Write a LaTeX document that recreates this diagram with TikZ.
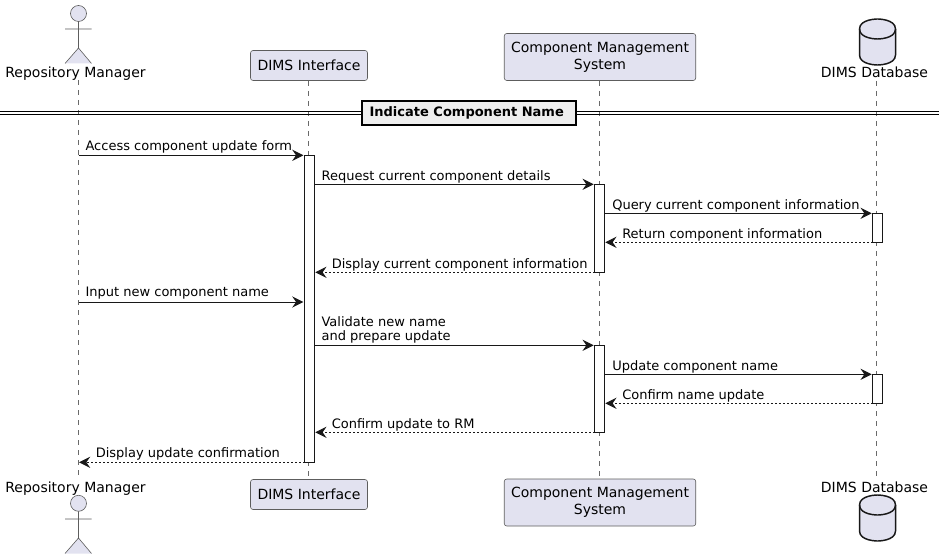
\documentclass[tikz,border=0pt]{standalone}
\usepackage{fontspec}
\setmainfont{DejaVu Sans}
\usetikzlibrary{arrows.meta,positioning}
\definecolor{partfill}{HTML}{E2E2F0}
\definecolor{ink}{HTML}{181818}
\definecolor{sepfill}{HTML}{EEEEEE}
\tikzset{
  x=0.75pt,y=-0.75pt,
  partlabel/.style={inner sep=0pt,font=\fontsize{10.5pt}{12.5pt}\selectfont,text=black,align=center},
  outerlabel/.style={partlabel,anchor=base},
  partbox/.style={partlabel,draw=ink!70,line width=0.45pt,fill=partfill,rounded corners=1.9pt},
  actorshape/.style={draw=ink!70,line width=0.45pt,fill=partfill},
  dbshape/.style={draw=ink,line width=1.1pt,fill=partfill},
  life/.style={draw=ink!65,line width=0.4pt,dash pattern=on 3.75pt off 3.75pt},
  bar/.style={draw=ink,line width=0.75pt,fill=white,inner sep=0pt,minimum width=7.5pt},
  msgtip/.style={-{Stealth[length=8.4pt,width=8.4pt,inset=2.9pt]}},
  call/.style={draw=ink,line width=0.75pt,msgtip},
  reply/.style={draw=ink,line width=0.75pt,msgtip,dash pattern=on 1.5pt off 1.5pt},
  msglabel/.style={inner sep=0pt,anchor=base west,font=\fontsize{9.75pt}{11pt}\selectfont,text=black},
  sepline/.style={draw=black,line width=1pt},
  sepbox/.style={draw=black,line width=1.5pt,fill=sepfill,inner sep=0pt,font=\fontsize{9.75pt}{11pt}\bfseries\selectfont,text=black}
}
\begin{document}
\begin{tikzpicture}
\useasboundingbox (0,0) rectangle (944,559);
% lifeline ends
\coordinate (rmTop) at (78.5,80);
\coordinate (rmEnd) at (78.5,478);
\coordinate (diTop) at (308.5,81);
\coordinate (diEnd) at (308.5,478);
\coordinate (cmTop) at (599.3,81);
\coordinate (cmEnd) at (599.3,477);
\coordinate (dbTop) at (876.3,81);
\coordinate (dbEnd) at (876.3,477);
\draw[life] (rmTop) -- (rmEnd);
\draw[life] (diTop) -- (diEnd);
\draw[life] (cmTop) -- (cmEnd);
\draw[life] (dbTop) -- (dbEnd);
% actors
\draw[actorshape] (78.5,13.5) circle (8);
\draw[actorshape] (78.5,21.5) -- (78.5,48) (65,29) -- (91.5,29) (65,63.5) -- (78.5,48) -- (91.5,63.5);
\node[outerlabel] (rmTopLabel) at (75.5,78) {Repository Manager};
\draw[actorshape] (78.5,503.3) circle (8);
\draw[actorshape] (78.5,511.3) -- (78.5,538) (65,519) -- (91.5,519) (65,553.5) -- (78.5,538) -- (91.5,553.5);
\node[outerlabel] (rmBotLabel) at (75.5,492) {Repository Manager};
% participant boxes
\node[partbox,minimum width=117*0.75pt,minimum height=30*0.75pt] (diTopBox) at (309,65.5) {DIMS Interface};
\node[partbox,minimum width=117*0.75pt,minimum height=30*0.75pt] (diBotBox) at (309,494.5) {DIMS Interface};
\node[partbox,minimum width=191.5*0.75pt,minimum height=47*0.75pt] (cmTopBox) at (600,57) {\raisebox{-1pt}{Component Management}\\\raisebox{-1pt}{System}};
\node[partbox,minimum width=191.5*0.75pt,minimum height=47*0.75pt] (cmBotBox) at (600,502.5) {\raisebox{-1pt}{Component Management}\\\raisebox{-1pt}{System}};
% database
\draw[dbshape] (859.5,29) .. controls (859.5,19) and (877.5,19) .. (877.5,19) .. controls (877.5,19) and (895.5,19) .. (895.5,29) -- (895.5,55) .. controls (895.5,65) and (877.5,65) .. (877.5,65) .. controls (877.5,65) and (859.5,65) .. (859.5,55) -- cycle;
\draw[dbshape,fill=none] (859.5,29) .. controls (859.5,39) and (877.5,39) .. (877.5,39) .. controls (877.5,39) and (895.5,39) .. (895.5,29);
\node[outerlabel] (dbTopLabel) at (874.5,78) {DIMS Database};
\node[outerlabel] (dbBotLabel) at (874.5,492) {DIMS Database};
\draw[dbshape] (859.5,505) .. controls (859.5,495) and (877.5,495) .. (877.5,495) .. controls (877.5,495) and (895.5,495) .. (895.5,505) -- (895.5,531) .. controls (895.5,541) and (877.5,541) .. (877.5,541) .. controls (877.5,541) and (859.5,541) .. (859.5,531) -- cycle;
\draw[dbshape,fill=none] (859.5,505) .. controls (859.5,515) and (877.5,515) .. (877.5,515) .. controls (877.5,515) and (895.5,515) .. (895.5,505);
% separator
\coordinate (sepL1) at (0,111.7);
\coordinate (sepR1) at (939,111.7);
\coordinate (sepL2) at (0,114.4);
\coordinate (sepR2) at (939,114.4);
\draw[sepline] (sepL1) -- (sepR1);
\draw[sepline] (sepL2) -- (sepR2);
\node[sepbox,minimum width=214*0.75pt,minimum height=24*0.75pt] (sepTitle) at (468.7,113) {Indicate Component Name\kern3pt};
% activation bars
\node[bar,minimum height=307*0.75pt] (diBar) at (309.5,308.8) {};
\node[bar,minimum height=88*0.75pt] (cmBarA) at (599.5,228.3) {};
\node[bar,minimum height=87*0.75pt] (cmBarB) at (599.5,388.8) {};
\node[bar,minimum height=29*0.75pt] (dbBarA) at (877.5,227.8) {};
\node[bar,minimum height=29*0.75pt] (dbBarB) at (877.5,388.8) {};
% message ends
\coordinate (m1s) at (78.5,155.3);
\coordinate (m1e) at (303.4,155.3);
\coordinate (m2s) at (314.5,184.3);
\coordinate (m2e) at (593.7,184.3);
\coordinate (m3s) at (604.5,213.3);
\coordinate (m3e) at (871.7,213.3);
\coordinate (m4s) at (872.5,242.3);
\coordinate (m4e) at (605.3,242.3);
\coordinate (m5s) at (594.5,272.3);
\coordinate (m5e) at (315.3,272.3);
\coordinate (m6s) at (78.5,302);
\coordinate (m6e) at (303.4,302);
\coordinate (m7s) at (314.5,345.3);
\coordinate (m7e) at (593.7,345.3);
\coordinate (m8s) at (604.5,374.3);
\coordinate (m8e) at (871.7,374.3);
\coordinate (m9s) at (872.5,403.3);
\coordinate (m9e) at (605.3,403.3);
\coordinate (m10s) at (594.5,432.3);
\coordinate (m10e) at (315.3,432.3);
\coordinate (m11s) at (304.5,462.3);
\coordinate (m11e) at (79,462.3);
\draw[call] (m1s) -- (m1e);
\draw[call] (m2s) -- (m2e);
\draw[call] (m3s) -- (m3e);
\draw[reply] (m4s) -- (m4e);
\draw[reply] (m5s) -- (m5e);
\draw[call] (m6s) -- (m6e);
\draw[call] (m7s) -- (m7e);
\draw[call] (m8s) -- (m8e);
\draw[reply] (m9s) -- (m9e);
\draw[reply] (m10s) -- (m10e);
\draw[reply] (m11s) -- (m11e);
% message labels
\node[msglabel] (t1) at (85.3,150.7) {Access component update form};
\node[msglabel] (t2) at (321.3,180.2) {Request current component details};
\node[msglabel] (t3) at (612,209.2) {Query current component information};
\node[msglabel] (t4) at (622,238.7) {Return component information};
\node[msglabel] (t5) at (331.5,268.2) {Display current component information};
\node[msglabel] (t6) at (85.3,296.8) {Input new component name};
\node[msglabel] (t7a) at (321.3,326) {Validate new name};
\node[msglabel] (t7b) at (321.3,340.2) {and prepare update};
\node[msglabel] (t8) at (612,370.5) {Update component name};
\node[msglabel] (t9) at (622,399) {Confirm name update};
\node[msglabel] (t10) at (331.5,428) {Confirm update to RM};
\node[msglabel] (t11) at (95.5,457.5) {Display update confirmation};
\end{tikzpicture}
\end{document}
